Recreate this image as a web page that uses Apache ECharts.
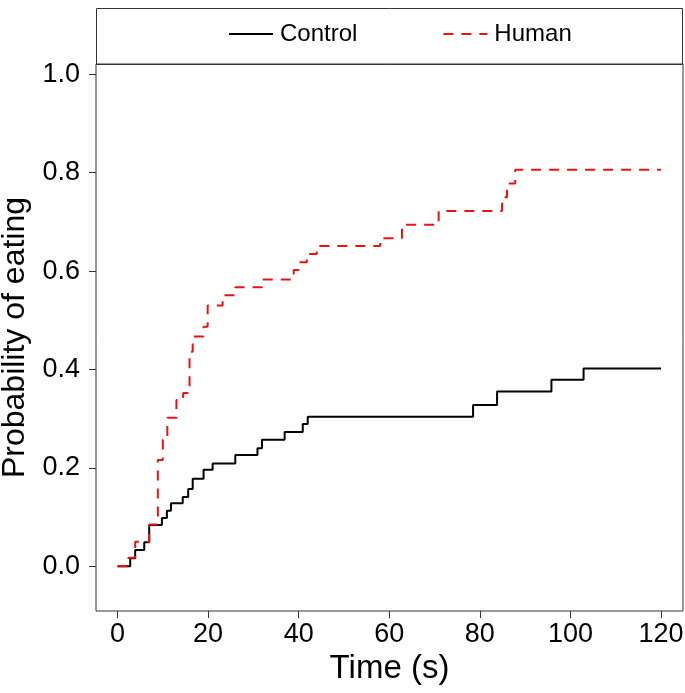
<!DOCTYPE html>
<html>
<head>
<meta charset="utf-8">
<script src="https://cdn.jsdelivr.net/npm/echarts@6/dist/echarts.min.js"></script>
<style>
html,body{margin:0;padding:0;background:#fff;}
#c{width:685px;height:693px;}
</style>
</head>
<body>
<div id="c"></div>
<script>
var controlTime = [0, 2.8, 3.9, 5.9, 7.0, 9.8, 10.9, 11.8, 14.4, 15.6, 16.6, 19.0, 21.0, 26.0, 30.9, 31.9, 36.9, 40.9, 42.0, 78.5, 83.8, 95.8, 102.9, 120];
var controlProb = [0, 0.016, 0.033, 0.049, 0.084, 0.098, 0.113, 0.128, 0.141, 0.157, 0.178, 0.196, 0.209, 0.226, 0.240, 0.257, 0.273, 0.289, 0.304, 0.328, 0.355, 0.379, 0.402, 0.402];
var humanTime = [0, 2.4, 3.9, 7.0, 8.9, 10.0, 11.0, 13.0, 14.5, 15.9, 16.6, 19.0, 19.9, 23.2, 26.0, 31.9, 38.9, 40.0, 41.8, 44.0, 58.0, 62.8, 70.9, 84.9, 86.0, 87.8, 120];
var humanProb = [0, 0.017, 0.050, 0.085, 0.216, 0.257, 0.302, 0.338, 0.352, 0.436, 0.467, 0.487, 0.530, 0.551, 0.567, 0.583, 0.602, 0.618, 0.635, 0.651, 0.667, 0.694, 0.722, 0.750, 0.778, 0.806, 0.806];
var xTicks = [0, 20, 40, 60, 80, 100, 120];
var yTicks = [0, 0.2, 0.4, 0.6, 0.8, 1.0];

function pairs(t, p) { return t.map(function (v, i) { return [v, p[i]]; }); }

var chart = echarts.init(document.getElementById('c'), null, {renderer: 'canvas'});
var font = 'Liberation Sans, Arial, Helvetica, sans-serif';
chart.setOption({
  animation: false,
  backgroundColor: '#fff',
  textStyle: {fontFamily: font},
  grid: {left: 96, right: 2, top: 64, bottom: 82, containLabel: false, outerBoundsMode: 'none',
    show: true, borderColor: '#333', borderWidth: 1, backgroundColor: 'transparent'},
  graphic: [{
    type: 'rect', shape: {x: 96.5, y: 8.5, width: 586, height: 56},
    style: {fill: 'none', stroke: '#333', lineWidth: 1}, silent: true
  }],
  legend: {
    left: 223, top: 17, itemWidth: 44, itemHeight: 14, itemGap: 85,
    itemStyle: {opacity: 0},
    textStyle: {fontSize: 24, color: '#000', fontFamily: font, padding: [0, 0, 0, 2]},
    data: ['Control', 'Human']
  },
  xAxis: {
    type: 'value', min: -4.75, max: 124.85,
    name: 'Time (s)', nameLocation: 'middle', nameGap: 35,
    nameTextStyle: {fontSize: 33, color: '#000', fontFamily: font},
    axisLine: {show: false, onZero: false},
    axisTick: {show: true, length: 7, inside: false, lineStyle: {color: '#333'}, customValues: xTicks},
    axisLabel: {fontSize: 27, color: '#000', margin: 10, customValues: xTicks, fontFamily: font},
    splitLine: {show: false}
  },
  yAxis: {
    type: 'value', min: -0.091, max: 1.021,
    name: 'Probability of eating', nameLocation: 'middle', nameGap: 54,
    nameTextStyle: {fontSize: 32, color: '#000', fontFamily: font},
    axisLine: {show: false, onZero: false},
    axisTick: {show: true, length: 7, inside: false, lineStyle: {color: '#333'}, customValues: yTicks},
    axisLabel: {fontSize: 27, color: '#000', margin: 16, customValues: yTicks, fontFamily: font,
      formatter: function (v) { return v.toFixed(1); }},
    splitLine: {show: false}
  },
  series: [{
    name: 'Control', type: 'line', step: 'end', symbol: 'none',
    data: pairs(controlTime, controlProb),
    lineStyle: {color: '#000', width: 2, type: 'solid'},
    itemStyle: {color: '#000'}
  }, {
    name: 'Human', type: 'line', step: 'end', symbol: 'none',
    data: pairs(humanTime, humanProb),
    lineStyle: {color: '#ee1111', width: 2, type: [10, 8]},
    itemStyle: {color: '#ee1111'}
  }]
});
</script>
</body>
</html>
